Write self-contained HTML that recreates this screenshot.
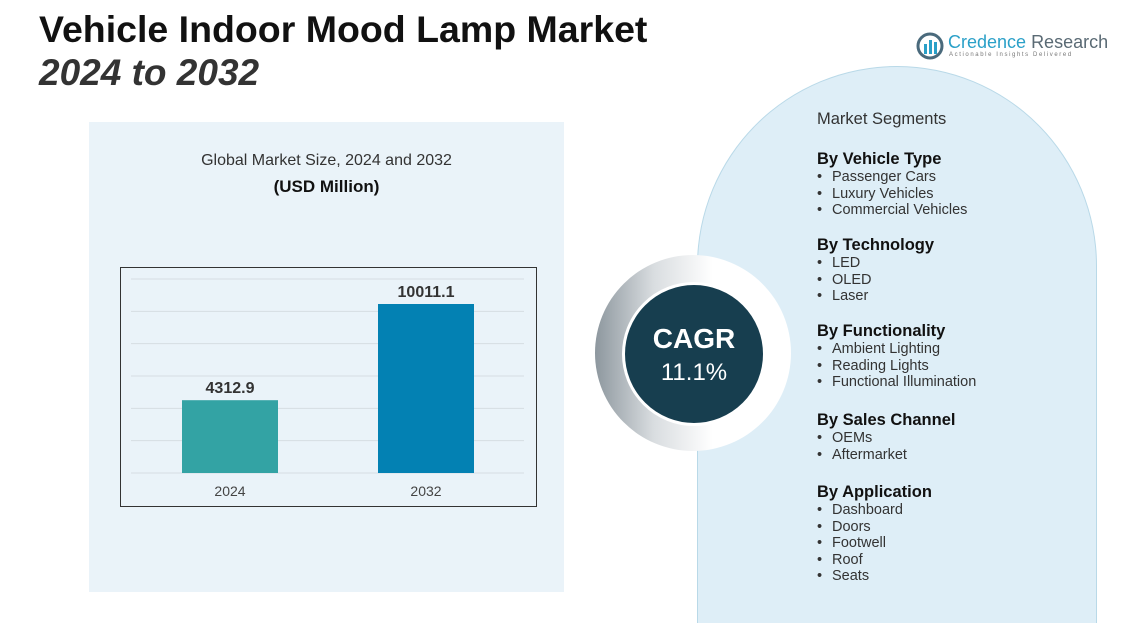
<!DOCTYPE html>
<html><head><meta charset="utf-8"><style>
html,body{margin:0;width:1138px;height:623px;overflow:hidden}
body{background:#fff;position:relative;font-family:"Liberation Sans",sans-serif;color:#222}
.abs{position:absolute}
h1{position:absolute;left:39px;top:8px;margin:0;font-size:37.5px;font-weight:bold;line-height:42px;color:#111}
h2{position:absolute;left:39px;top:52px;margin:0;font-size:37px;font-weight:bold;font-style:italic;line-height:42px;color:#333}
.seg{position:absolute;left:817px;font-size:14.5px;color:#333;line-height:16.6px}
.seg b{display:block;font-size:16.5px;color:#111;line-height:19px}
.seg span{display:block}
.seg span:before{content:"•";display:inline-block;width:15px}
</style></head><body>
<h1>Vehicle Indoor Mood Lamp Market</h1>
<h2>2024 to 2032</h2>
<div class="abs" style="left:916px;top:32px;width:180px;height:30px">
<svg width="28" height="28" style="position:absolute;left:0;top:0"><circle cx="14" cy="14" r="12" fill="none" stroke="#4a6a7c" stroke-width="3"/><rect x="8" y="12" width="3" height="10" fill="#2aa0c8"/><rect x="13" y="8" width="3" height="14" fill="#2aa0c8"/><rect x="18" y="10" width="3" height="12" fill="#2aa0c8"/></svg>
<div style="position:absolute;left:32px;top:0;font-size:18px;color:#2aa0c8;white-space:nowrap">Credence <span style="color:#5a6a74">Research</span></div>
<div style="position:absolute;left:33px;top:20px;font-size:6px;letter-spacing:1.6px;color:#777;white-space:nowrap">Actionable Insights Delivered</div>
</div>
<div class="abs" style="left:89px;top:122px;width:475px;height:470px;background:#eaf3f9"></div>
<div class="abs" style="left:89px;top:152px;width:475px;text-align:center;font-size:16px;color:#333">Global Market Size, 2024 and 2032</div>
<div class="abs" style="left:89px;top:177px;width:475px;text-align:center;font-size:17px;font-weight:bold;color:#111">(USD Million)</div>
<svg class="abs" style="left:0;top:0" width="1138" height="623" id="chart">
<rect x="120.5" y="267.5" width="416" height="239" fill="none" stroke="#333" stroke-width="1"/>
</svg>
<div class="abs" style="left:697px;top:66px;width:400px;height:557px;background:#deeef7;border:1.5px solid #b9d9e8;border-bottom:none;border-radius:200px 200px 0 0;box-sizing:border-box"></div>
<div class="abs" style="left:595px;top:255px;width:196px;height:196px;border-radius:50%;background:linear-gradient(90deg,#8d979e 0%,#d9dde0 30%,#ffffff 60%,#ffffff 100%)"></div>
<div class="abs" style="left:622px;top:282px;width:144px;height:144px;border-radius:50%;background:#173e4f;border:3px solid #fff;box-sizing:border-box;color:#fff;text-align:center">
<div style="font-size:28px;font-weight:bold;margin-top:38px">CAGR</div>
<div style="font-size:24px;margin-top:4px">11.1%</div></div>
<div class="seg" style="top:111px;font-size:16.5px">Market Segments</div>
<div class="seg" style="top:150px"><b>By Vehicle Type</b><span>Passenger Cars</span><span>Luxury Vehicles</span><span>Commercial Vehicles</span></div>
<div class="seg" style="top:236px"><b>By Technology</b><span>LED</span><span>OLED</span><span>Laser</span></div>
<div class="seg" style="top:322px"><b>By Functionality</b><span>Ambient Lighting</span><span>Reading Lights</span><span>Functional Illumination</span></div>
<div class="seg" style="top:411px"><b>By Sales Channel</b><span>OEMs</span><span>Aftermarket</span></div>
<div class="seg" style="top:483px"><b>By Application</b><span>Dashboard</span><span>Doors</span><span>Footwell</span><span>Roof</span><span>Seats</span></div>
<script>
const categories=["2024","2032"];
const values=[4312.9,10011.1];
const valueLabels=["4312.9","10011.1"];
const colors=["#33a3a4","#0381b3"];
const svg=document.getElementById('chart');
const NS="http://www.w3.org/2000/svg";
const base=473, top0=279;
function y(v){return base-v*(169/10011.1);}
function xc(i){return 230+i*196;}
for(let k=0;k<7;k++){const l=document.createElementNS(NS,'line');const gy=base-k*(base-top0)/6;
l.setAttribute('x1',131);l.setAttribute('x2',524);l.setAttribute('y1',gy);l.setAttribute('y2',gy);l.setAttribute('stroke','#d6dde2');l.setAttribute('stroke-width',1);

svg.appendChild(l);}
categories.forEach((c,i)=>{
const r=document.createElementNS(NS,'rect');r.setAttribute('x',xc(i)-48);r.setAttribute('width',96);r.setAttribute('y',y(values[i]));r.setAttribute('height',base-y(values[i]));r.setAttribute('fill',colors[i]);

svg.appendChild(r);
const t=document.createElementNS(NS,'text');t.setAttribute('x',xc(i));t.setAttribute('y',y(values[i])-7);t.setAttribute('text-anchor','middle');t.setAttribute('font-size','16');t.setAttribute('font-weight','bold');t.setAttribute('fill','#333');t.textContent=valueLabels[i];

svg.appendChild(t);
const a=document.createElementNS(NS,'text');a.setAttribute('x',xc(i));a.setAttribute('y',496);a.setAttribute('text-anchor','middle');a.setAttribute('font-size','14');a.setAttribute('fill','#444');a.textContent=c;

svg.appendChild(a);
});
</script>
</body></html>
